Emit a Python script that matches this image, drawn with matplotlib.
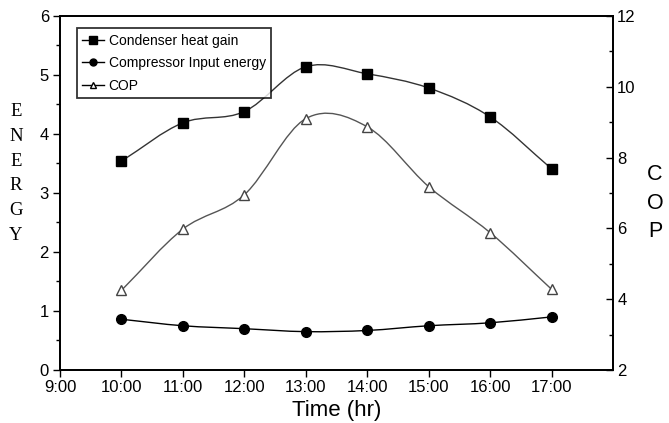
import numpy as np
import matplotlib.pyplot as plt
from matplotlib.path import Path
from matplotlib.patches import PathPatch
from matplotlib.lines import Line2D
from matplotlib.ticker import MultipleLocator

plt.rcParams['font.family'] = ['Liberation Sans', 'DejaVu Sans']

hours     = [10, 11, 12, 13, 14, 15, 16, 17]
condenser = [3.54, 4.19, 4.38, 5.14, 5.02, 4.78, 4.29, 3.41]
compressor = [0.86, 0.75, 0.70, 0.65, 0.67, 0.75, 0.80, 0.90]
cop       = [4.25, 5.98, 6.95, 9.10, 8.87, 7.18, 5.88, 4.28]
tick_hours  = [9, 10, 11, 12, 13, 14, 15, 16, 17]
tick_labels = ['9:00', '10:00', '11:00', '12:00', '13:00', '14:00', '15:00', '16:00', '17:00']


def smooth_path(x, y):
    # Catmull-Rom style cubic bezier through the points
    x = np.asarray(x, float)
    y = np.asarray(y, float)
    n = len(x)
    mx = np.gradient(x)
    my = np.gradient(y)
    verts = [(x[0], y[0])]
    codes = [Path.MOVETO]
    for i in range(n - 1):
        verts += [(x[i] + mx[i] / 3, y[i] + my[i] / 3),
                  (x[i + 1] - mx[i + 1] / 3, y[i + 1] - my[i + 1] / 3),
                  (x[i + 1], y[i + 1])]
        codes += [Path.CURVE4] * 3
    return Path(verts, codes)


fig = plt.figure(figsize=(6.69, 4.23), dpi=100)
ax = fig.add_axes([0.0897, 0.1253, 0.8266, 0.8369])
ax2 = ax.twinx()

line_col = '#333333'
ax.add_patch(PathPatch(smooth_path(hours, condenser), fill=False, ec=line_col, lw=1.0))
ax.add_patch(PathPatch(smooth_path(hours, compressor), fill=False, ec='black', lw=1.0))
ax2.add_patch(PathPatch(smooth_path(hours, cop), fill=False, ec='#555555', lw=1.0))

ax.plot(hours, condenser, ls='none', marker='s', ms=7.5, color='black')
ax.plot(hours, compressor, ls='none', marker='o', ms=7, color='black')
ax2.plot(hours, cop, ls='none', marker='^', ms=7, mfc='white', mec='#444444', mew=1.0)

ax.set_xlim(9, 18)
ax.set_ylim(0, 6)
ax2.set_ylim(2, 12)
ax.set_xticks(tick_hours)
ax.set_xticklabels(tick_labels)
ax.yaxis.set_major_locator(MultipleLocator(1))
ax.yaxis.set_minor_locator(MultipleLocator(0.5))
ax2.yaxis.set_major_locator(MultipleLocator(2))
ax2.yaxis.set_minor_locator(MultipleLocator(1))

ax.tick_params(axis='both', which='major', direction='out', length=5, width=1, labelsize=12, pad=2)
ax.tick_params(axis='y', which='minor', direction='out', length=3, width=1)
ax.tick_params(axis='y', pad=3)
ax2.tick_params(axis='y', which='major', direction='in', length=5, width=1, labelsize=12, pad=3)
ax2.tick_params(axis='y', which='minor', direction='in', length=3, width=1)

for a in (ax, ax2):
    for s in a.spines.values():
        s.set_linewidth(1.3)

ax.set_xlabel('Time (hr)', fontsize=16, labelpad=4)

fig.text(0.024, 0.59, 'E\nN\nE\nR\nG\nY', family='Liberation Serif', fontsize=13.5,
         ha='center', va='center', linespacing=1.6)
fig.text(0.979, 0.52, 'C\nO\nP', fontsize=15.5, ha='center', va='center', linespacing=1.45)

handles = [
    Line2D([], [], color='black', marker='s', ms=6, lw=1),
    Line2D([], [], color='black', marker='o', ms=5, lw=1),
    Line2D([], [], color='black', marker='^', ms=5, mfc='white', lw=1),
]
labels = ['Condenser heat gain', 'Compressor Input energy', 'COP']
leg = ax.legend(handles, labels, loc='upper left', bbox_to_anchor=(0.03, 0.965),
                fontsize=10, frameon=True, fancybox=False, edgecolor='black',
                handlelength=1.6, handletextpad=0.3, labelspacing=0.6,
                borderpad=0.4, borderaxespad=0)
leg.get_frame().set_linewidth(1.3)

fig.savefig('out.png', dpi=100)
